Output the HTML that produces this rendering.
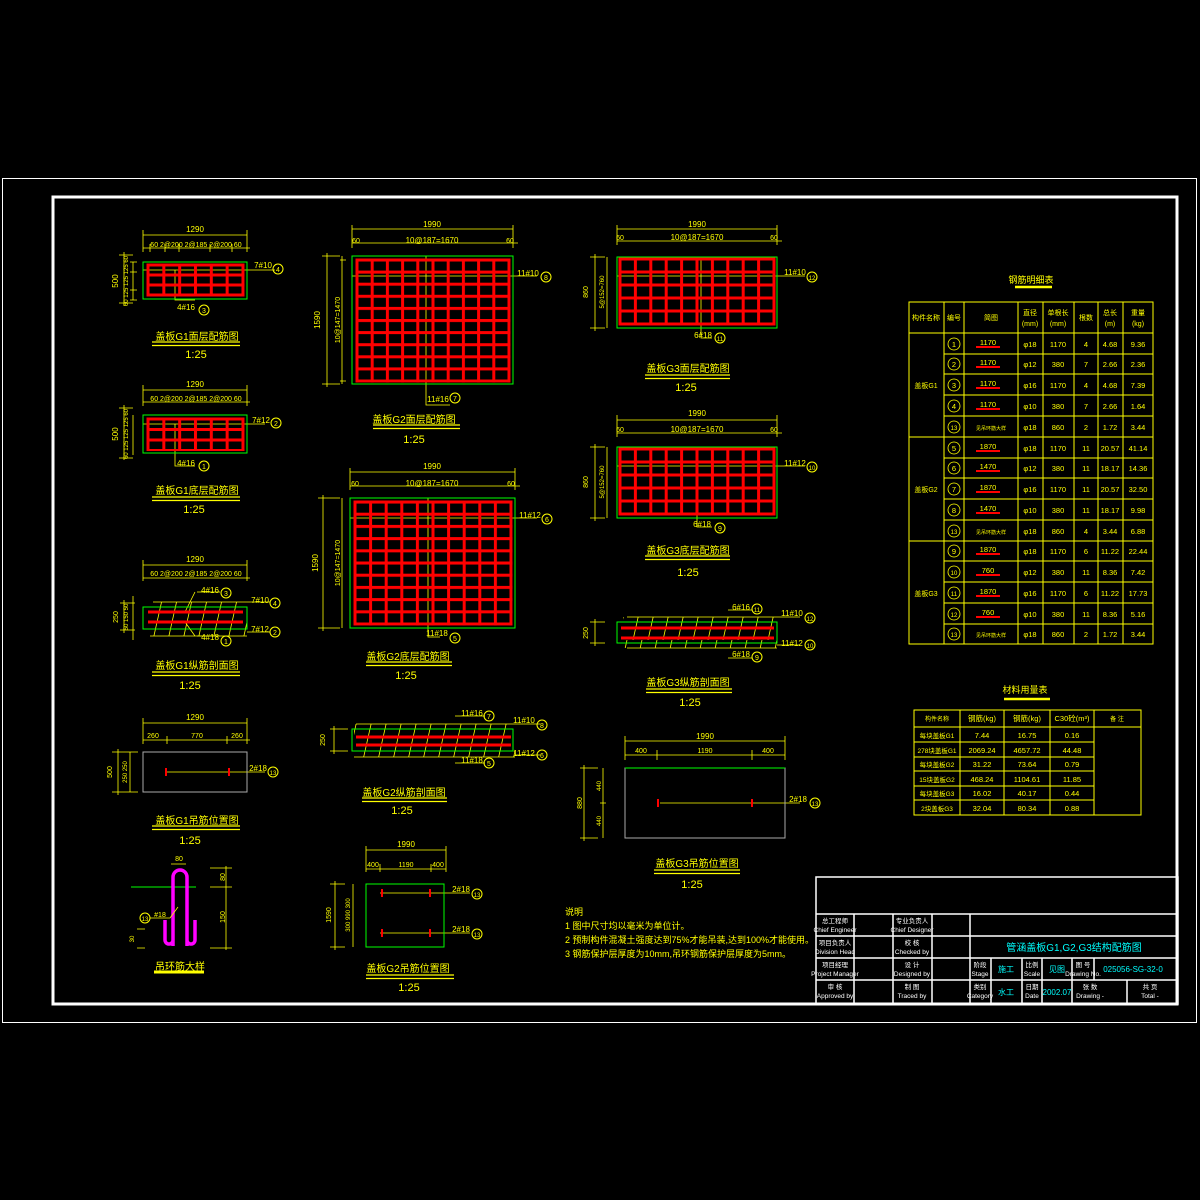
<!DOCTYPE html>
<html><head><meta charset="utf-8"><style>
html,body{margin:0;padding:0;background:#000;}
svg{display:block;}
text{font-family:"Liberation Sans","Noto Sans CJK SC",sans-serif;}
</style></head><body>
<svg width="1200" height="1200" viewBox="0 0 1200 1200" xmlns="http://www.w3.org/2000/svg">
<defs>
<pattern id="pg1" patternUnits="userSpaceOnUse" x="146.5" y="263.5" width="15.83" height="10"><path d="M1.5 0V10M0 1.5H15.83" stroke="#f00" stroke-width="3"/></pattern>
<pattern id="pg1b" patternUnits="userSpaceOnUse" x="146.5" y="417.5" width="15.83" height="10.5"><path d="M1.5 0V10.5M0 1.5H15.83" stroke="#f00" stroke-width="3"/></pattern>
<pattern id="pg2" patternUnits="userSpaceOnUse" x="355.5" y="258.5" width="15.2" height="12.1"><path d="M1.5 0V12.1M0 1.5H15.2" stroke="#f00" stroke-width="3"/></pattern>
<pattern id="pg2b" patternUnits="userSpaceOnUse" x="353.5" y="500.5" width="15.6" height="12.2"><path d="M1.5 0V12.2M0 1.5H15.6" stroke="#f00" stroke-width="3"/></pattern>
<pattern id="pg3" patternUnits="userSpaceOnUse" x="618.5" y="257.5" width="15.4" height="13"><path d="M1.5 0V13M0 1.5H15.4" stroke="#f00" stroke-width="3"/></pattern>
<pattern id="pg3b" patternUnits="userSpaceOnUse" x="618.5" y="447.5" width="15.4" height="13"><path d="M1.5 0V13M0 1.5H15.4" stroke="#f00" stroke-width="3"/></pattern>
<pattern id="hatch" patternUnits="userSpaceOnUse" width="15" height="40"><path d="M12 0L3 40" stroke="#ff0" stroke-width="0.8"/></pattern>
</defs>
<rect width="1200" height="1200" fill="#000"/>
<rect x="2.5" y="178.5" width="1194" height="844" fill="none" stroke="#fff" stroke-width="1"/>
<rect x="53" y="197" width="1124" height="807" fill="none" stroke="#fff" stroke-width="3"/>

<g fill="#ff0" font-size="8" text-anchor="middle">
<!-- ===== G1 top plan ===== -->
<g stroke="#ff0" stroke-width="0.8" fill="none">
<path d="M143 235H247M143 248H250M143 230V252M247 230V252M150 244V252M165 244V252M179 244V252M210 244V252M232 244V252"/>
<path d="M119 255H133M119 303H133M124 252V306M133 262V300M130 262H137M130 272H137M130 290H137M130 300H137"/>
<path d="M143 270H275M175 270V300H195"/>
</g>
<rect x="146.5" y="263.5" width="98" height="33" fill="url(#pg1)"/>
<rect x="143" y="262" width="104" height="37" fill="none" stroke="#0f0" stroke-width="1"/>
<text x="195" y="232">1290</text>
<text x="196" y="247" font-size="7">60 2@200 2@185 2@200 60</text>
<text x="118" y="281" transform="rotate(-90 118 281)">500</text>
<text x="128" y="281" font-size="6" transform="rotate(-90 128 281)">60 125 125 125 60</text>
<text x="263" y="268">7#10</text>
<circle cx="278" cy="269" r="5" fill="none" stroke="#ff0"/><text x="278" y="272" font-size="7">4</text>
<text x="186" y="310">4#16</text>
<circle cx="204" cy="310" r="5" fill="none" stroke="#ff0"/><text x="204" y="313" font-size="7">3</text>
<text x="197" y="340" font-size="10">盖板G1面层配筋图</text>
<path d="M152 342H240M152 345.5H240" stroke="#ff0" stroke-width="1.2"/>
<text x="196" y="358" font-size="11">1:25</text>

<!-- ===== G1 bottom plan ===== -->
<g stroke="#ff0" stroke-width="0.8" fill="none">
<path d="M143 390H247M143 402H250M143 385V406M247 385V406"/>
<path d="M119 408H133M119 458H133M124 405V460M133 415V455"/>
<path d="M143 424H265M175 424V466H195"/>
</g>
<rect x="146.5" y="417.5" width="98" height="33.5" fill="url(#pg1b)"/>
<rect x="143" y="415" width="104" height="38" fill="none" stroke="#0f0"/>
<text x="195" y="387">1290</text>
<text x="196" y="401" font-size="7">60 2@200 2@185 2@200 60</text>
<text x="118" y="434" transform="rotate(-90 118 434)">500</text>
<text x="128" y="434" font-size="6" transform="rotate(-90 128 434)">60 125 125 125 60</text>
<text x="261" y="423">7#12</text>
<circle cx="276" cy="423" r="5" fill="none" stroke="#ff0"/><text x="276" y="426" font-size="7">2</text>
<text x="186" y="466">4#16</text>
<circle cx="204" cy="466" r="5" fill="none" stroke="#ff0"/><text x="204" y="469" font-size="7">1</text>
<text x="197" y="494" font-size="10">盖板G1底层配筋图</text>
<path d="M152 497H240M152 500.5H240" stroke="#ff0" stroke-width="1.2"/>
<text x="194" y="513" font-size="11">1:25</text>

<!-- ===== G1 section ===== -->
<g stroke="#ff0" stroke-width="0.8" fill="none">
<path d="M143 565H247M143 578H250M143 560V581M247 560V581"/>
<path d="M153 602H247M150 636H247"/>
<path d="M197 592H220M197 636H220M195 592L185 612M195 636L185 622"/>
<path d="M247 602H270M247 632H270"/>
<path d="M120 603H135M120 630H135M124 600V633M133 596V640"/>
</g>
<rect x="150" y="602" width="97" height="34" fill="url(#hatch)"/>
<rect x="143" y="607" width="104" height="22" fill="none" stroke="#0f0"/>
<path d="M148 612H243M148 622H243" stroke="#f00" stroke-width="3"/>
<text x="195" y="562">1290</text>
<text x="196" y="576" font-size="7">60 2@200 2@185 2@200 60</text>
<text x="118" y="617" font-size="7" transform="rotate(-90 118 617)">250</text>
<text x="128" y="617" font-size="6" transform="rotate(-90 128 617)">50 150 50</text>
<text x="210" y="593">4#16</text><circle cx="226" cy="593" r="5" fill="none" stroke="#ff0"/><text x="226" y="596" font-size="7">3</text>
<text x="210" y="640">4#18</text><circle cx="226" cy="641" r="5" fill="none" stroke="#ff0"/><text x="226" y="644" font-size="7">1</text>
<text x="260" y="603">7#10</text><circle cx="275" cy="603" r="5" fill="none" stroke="#ff0"/><text x="275" y="606" font-size="7">4</text>
<text x="260" y="632">7#12</text><circle cx="275" cy="632" r="5" fill="none" stroke="#ff0"/><text x="275" y="635" font-size="7">2</text>
<text x="197" y="669" font-size="10">盖板G1纵筋剖面图</text>
<path d="M152 672H240M152 675.5H240" stroke="#ff0" stroke-width="1.2"/>
<text x="190" y="689" font-size="11">1:25</text>

<!-- ===== G1 lifting ===== -->
<g stroke="#ff0" stroke-width="0.8" fill="none">
<path d="M143 723H247M143 740H250M143 718V744M247 718V744M167 736V744M227 736V744"/>
<path d="M112 752H138M112 792H138M118 749V795M130 752V792"/>
<path d="M165 772H230M230 772H265"/>
</g>
<rect x="143" y="752" width="104" height="40" fill="none" stroke="#aaa"/>
<path d="M166 768V776M229 768V776" stroke="#f00" stroke-width="2"/>
<text x="195" y="720">1290</text>
<text x="153" y="738" font-size="7">260</text><text x="197" y="738" font-size="7">770</text><text x="237" y="738" font-size="7">260</text>
<text x="112" y="772" font-size="7" transform="rotate(-90 112 772)">500</text>
<text x="127" y="772" font-size="6" transform="rotate(-90 127 772)">250 250</text>
<text x="258" y="771">2#18</text><circle cx="273" cy="772" r="5" fill="none" stroke="#ff0"/><text x="273" y="775" font-size="6">13</text>
<text x="197" y="824" font-size="10">盖板G1吊筋位置图</text>
<path d="M152 826H240M152 829.5H240" stroke="#ff0" stroke-width="1.2"/>
<text x="190" y="844" font-size="11">1:25</text>

<!-- ===== lifting ring ===== -->
<path d="M131 887H196" stroke="#0f0" stroke-width="1"/>
<path d="M173 946V877A7 7 0 0 1 187 877V946M165 920V940A4 4 0 0 0 173 940M187 940A4 4 0 0 0 195 940V920" stroke="#f0f" stroke-width="3.5" fill="none"/>
<g stroke="#ff0" stroke-width="0.8" fill="none"><path d="M171 864H186M210 868H232M210 887H232M210 948H232M226 866V950M150 918H170L178 907M137 929H145M137 948H145"/></g>
<text x="179" y="861" font-size="7">80</text>
<text x="225" y="877" font-size="7" transform="rotate(-90 225 877)">80</text>
<text x="225" y="917" font-size="7" transform="rotate(-90 225 917)">150</text>
<text x="134" y="939" font-size="6" transform="rotate(-90 134 939)">30</text>
<circle cx="145" cy="918" r="5" fill="none" stroke="#ff0"/><text x="145" y="921" font-size="6">13</text>
<text x="160" y="917" font-size="7">#18</text>
<text x="180" y="970" font-size="10">吊环筋大样</text>
<path d="M154 972H204" stroke="#ff0" stroke-width="3"/>

<!-- ===== G2 top plan ===== -->
<g stroke="#ff0" stroke-width="0.8" fill="none">
<path d="M352 229H513M352 243H518M352 225V248M513 225V248"/>
<path d="M322 256H340M322 384H340M327 253V387M342 256V384M340 260H346M340 381H346"/>
<path d="M352 276H537M426 256V405H450"/>
</g>
<rect x="355.5" y="258.5" width="155" height="124" fill="url(#pg2)"/>
<rect x="352" y="256" width="161" height="128" fill="none" stroke="#0f0"/>
<text x="432" y="227">1990</text>
<text x="356" y="243" font-size="7">60</text><text x="432" y="243">10@187=1670</text><text x="510" y="243" font-size="7">60</text>
<text x="320" y="320" transform="rotate(-90 320 320)">1590</text>
<text x="340" y="320" font-size="7" transform="rotate(-90 340 320)">10@147=1470</text>
<text x="528" y="276">11#10</text><circle cx="546" cy="277" r="5" fill="none" stroke="#ff0"/><text x="546" y="280" font-size="7">8</text>
<text x="438" y="402">11#16</text><circle cx="455" cy="398" r="5" fill="none" stroke="#ff0"/><text x="455" y="401" font-size="7">7</text>
<text x="414" y="423" font-size="10">盖板G2面层配筋图</text>
<path d="M373 425H460M373 428.5H460" stroke="#ff0" stroke-width="1.2"/>
<text x="414" y="443" font-size="11">1:25</text>

<!-- ===== G2 bottom plan ===== -->
<g stroke="#ff0" stroke-width="0.8" fill="none">
<path d="M350 472H515M350 486H520M350 468V490M515 468V490"/>
<path d="M318 498H340M318 628H340M323 495V631M342 498V628"/>
<path d="M350 518H537M428 498V637H440"/>
</g>
<rect x="353.5" y="500.5" width="159" height="125" fill="url(#pg2b)"/>
<rect x="350" y="498" width="165" height="130" fill="none" stroke="#0f0"/>
<text x="432" y="469">1990</text>
<text x="355" y="486" font-size="7">60</text><text x="432" y="486">10@187=1670</text><text x="511" y="486" font-size="7">60</text>
<text x="318" y="563" transform="rotate(-90 318 563)">1590</text>
<text x="340" y="563" font-size="7" transform="rotate(-90 340 563)">10@147=1470</text>
<text x="530" y="518">11#12</text><circle cx="547" cy="519" r="5" fill="none" stroke="#ff0"/><text x="547" y="522" font-size="7">6</text>
<text x="437" y="636">11#18</text><circle cx="455" cy="638" r="5" fill="none" stroke="#ff0"/><text x="455" y="641" font-size="7">5</text>
<text x="408" y="660" font-size="10">盖板G2底层配筋图</text>
<path d="M366 662H452M366 665.5H452" stroke="#ff0" stroke-width="1.2"/>
<text x="406" y="679" font-size="11">1:25</text>

<!-- ===== G2 section ===== -->
<g stroke="#ff0" stroke-width="0.8" fill="none">
<path d="M356 724H515M354 757H515M455 716H485M455 763H485M515 724H540M515 755H540M330 729H348M330 751H348M334 726V754"/>
</g>
<rect x="354" y="724" width="161" height="33" fill="url(#hatch)"/>
<rect x="352" y="729" width="161" height="22" fill="none" stroke="#0f0"/>
<path d="M356 737H511M356 745H511" stroke="#f00" stroke-width="3"/>
<text x="325" y="740" font-size="7" transform="rotate(-90 325 740)">250</text>
<text x="472" y="716">11#16</text><circle cx="489" cy="716" r="5" fill="none" stroke="#ff0"/><text x="489" y="719" font-size="7">7</text>
<text x="472" y="763">11#18</text><circle cx="489" cy="763" r="5" fill="none" stroke="#ff0"/><text x="489" y="766" font-size="7">5</text>
<text x="524" y="723">11#10</text><circle cx="542" cy="725" r="5" fill="none" stroke="#ff0"/><text x="542" y="728" font-size="7">8</text>
<text x="524" y="756">11#12</text><circle cx="542" cy="755" r="5" fill="none" stroke="#ff0"/><text x="542" y="758" font-size="7">6</text>
<text x="404" y="796" font-size="10">盖板G2纵筋剖面图</text>
<path d="M362 798H447M362 801.5H447" stroke="#ff0" stroke-width="1.2"/>
<text x="402" y="814" font-size="11">1:25</text>

<!-- ===== G2 lifting ===== -->
<g stroke="#ff0" stroke-width="0.8" fill="none">
<path d="M366 850H446M366 869H446M366 846V872M380 864V872M431 864V872M446 846V872"/>
<path d="M330 884H345M330 947H345M335 881V950M353 884V947"/>
<path d="M380 893H470M380 933H470"/>
</g>
<rect x="366" y="884" width="78" height="63" fill="none" stroke="#0f0"/>
<path d="M382 889V897M430 889V897M382 929V937M430 929V937" stroke="#f00" stroke-width="2"/>
<text x="406" y="847">1990</text>
<text x="373" y="867" font-size="7">400</text><text x="406" y="867" font-size="7">1190</text><text x="438" y="867" font-size="7">400</text>
<text x="331" y="915" font-size="7" transform="rotate(-90 331 915)">1590</text>
<text x="350" y="915" font-size="6" transform="rotate(-90 350 915)">300 990 300</text>
<text x="461" y="892">2#18</text><circle cx="477" cy="894" r="5" fill="none" stroke="#ff0"/><text x="477" y="897" font-size="6">13</text>
<text x="461" y="932">2#18</text><circle cx="477" cy="934" r="5" fill="none" stroke="#ff0"/><text x="477" y="937" font-size="6">13</text>
<text x="408" y="972" font-size="10">盖板G2吊筋位置图</text>
<path d="M366 975H454M366 978.5H454" stroke="#ff0" stroke-width="1.2"/>
<text x="409" y="991" font-size="11">1:25</text>

<!-- ===== G3 top plan ===== -->
<g stroke="#ff0" stroke-width="0.8" fill="none">
<path d="M617 229H777M617 241H782M617 225V245M777 225V245"/>
<path d="M590 257H605M590 328H605M595 254V331M607 257V328"/>
<path d="M617 276H805M701 257V338H712"/>
</g>
<rect x="618.5" y="257.5" width="157" height="68" fill="url(#pg3)"/>
<rect x="617" y="257" width="160" height="71" fill="none" stroke="#0f0"/>
<text x="697" y="227">1990</text>
<text x="620" y="240" font-size="7">60</text><text x="697" y="240">10@187=1670</text><text x="774" y="240" font-size="7">60</text>
<text x="588" y="292" font-size="7" transform="rotate(-90 588 292)">860</text>
<text x="604" y="292" font-size="6" transform="rotate(-90 604 292)">5@152=760</text>
<text x="795" y="275">11#10</text><circle cx="812" cy="277" r="5" fill="none" stroke="#ff0"/><text x="812" y="280" font-size="6">12</text>
<text x="703" y="338">6#18</text><circle cx="720" cy="338" r="5" fill="none" stroke="#ff0"/><text x="720" y="341" font-size="6">11</text>
<text x="688" y="372" font-size="10">盖板G3面层配筋图</text>
<path d="M645 375H730M645 378.5H730" stroke="#ff0" stroke-width="1.2"/>
<text x="686" y="391" font-size="11">1:25</text>

<!-- ===== G3 bottom plan ===== -->
<g stroke="#ff0" stroke-width="0.8" fill="none">
<path d="M617 420H777M617 433H782M617 415V437M777 415V437"/>
<path d="M590 447H605M590 518H605M595 444V521M607 447V518"/>
<path d="M617 466H805M697 447V527H712"/>
</g>
<rect x="618.5" y="447.5" width="157" height="68" fill="url(#pg3b)"/>
<rect x="617" y="447" width="160" height="71" fill="none" stroke="#0f0"/>
<text x="697" y="416">1990</text>
<text x="620" y="432" font-size="7">60</text><text x="697" y="432">10@187=1670</text><text x="774" y="432" font-size="7">60</text>
<text x="588" y="482" font-size="7" transform="rotate(-90 588 482)">860</text>
<text x="604" y="482" font-size="6" transform="rotate(-90 604 482)">5@152=760</text>
<text x="795" y="466">11#12</text><circle cx="812" cy="467" r="5" fill="none" stroke="#ff0"/><text x="812" y="470" font-size="6">10</text>
<text x="702" y="527">6#18</text><circle cx="720" cy="528" r="5" fill="none" stroke="#ff0"/><text x="720" y="531" font-size="7">9</text>
<text x="688" y="554" font-size="10">盖板G3底层配筋图</text>
<path d="M645 556H730M645 559.5H730" stroke="#ff0" stroke-width="1.2"/>
<text x="688" y="576" font-size="11">1:25</text>

<!-- ===== G3 section ===== -->
<g stroke="#ff0" stroke-width="0.8" fill="none">
<path d="M627 617H777M627 648H777M728 610H752M728 658H752M777 617H800M777 645H800M590 622H605M590 643H605M595 619V646"/>
</g>
<rect x="623" y="617" width="154" height="31" fill="url(#hatch)"/>
<rect x="617" y="622" width="160" height="21" fill="none" stroke="#0f0"/>
<path d="M621 628H774M621 638H774" stroke="#f00" stroke-width="3"/>
<text x="588" y="633" font-size="7" transform="rotate(-90 588 633)">250</text>
<text x="741" y="610">6#16</text><circle cx="757" cy="609" r="5" fill="none" stroke="#ff0"/><text x="757" y="612" font-size="6">11</text>
<text x="741" y="657">6#18</text><circle cx="757" cy="657" r="5" fill="none" stroke="#ff0"/><text x="757" y="660" font-size="7">9</text>
<text x="792" y="616">11#10</text><circle cx="810" cy="618" r="5" fill="none" stroke="#ff0"/><text x="810" y="621" font-size="6">12</text>
<text x="792" y="646">11#12</text><circle cx="810" cy="645" r="5" fill="none" stroke="#ff0"/><text x="810" y="648" font-size="6">10</text>
<text x="688" y="686" font-size="10">盖板G3纵筋剖面图</text>
<path d="M646 689H732M646 692.5H732" stroke="#ff0" stroke-width="1.2"/>
<text x="690" y="706" font-size="11">1:25</text>

<!-- ===== G3 lifting ===== -->
<g stroke="#ff0" stroke-width="0.8" fill="none">
<path d="M625 741H785M625 755H785M625 736V760M657 750V760M752 750V760M785 736V760"/>
<path d="M580 768H598M580 838H598M584 765V841M603 768V838M600 803H606"/>
<path d="M660 803H800"/>
</g>
<rect x="625" y="768" width="160" height="70" fill="none" stroke="#aaa"/>
<path d="M625 768H785" stroke="#0f0"/>
<path d="M658 799V807M752 799V807" stroke="#f00" stroke-width="2"/>
<text x="705" y="739">1990</text>
<text x="641" y="753" font-size="7">400</text><text x="705" y="753" font-size="7">1190</text><text x="768" y="753" font-size="7">400</text>
<text x="582" y="803" font-size="7" transform="rotate(-90 582 803)">880</text>
<text x="601" y="786" font-size="6" transform="rotate(-90 601 786)">440</text>
<text x="601" y="821" font-size="6" transform="rotate(-90 601 821)">440</text>
<text x="798" y="802">2#18</text><circle cx="815" cy="803" r="5" fill="none" stroke="#ff0"/><text x="815" y="806" font-size="6">13</text>
<text x="697" y="867" font-size="10">盖板G3吊筋位置图</text>
<path d="M654 870H740M654 873.5H740" stroke="#ff0" stroke-width="1.2"/>
<text x="692" y="888" font-size="11">1:25</text>
</g>

<!-- notes -->
<g fill="#ff0" font-size="9">
<text x="565" y="915">说明</text>
<text x="565" y="929">1 图中尺寸均以毫米为单位计。</text>
<text x="565" y="943">2 预制构件混凝土强度达到75%才能吊装,达到100%才能使用。</text>
<text x="565" y="957">3 钢筋保护层厚度为10mm,吊环钢筋保护层厚度为5mm。</text>
</g>

<!-- table 1 -->
<text x="1031" y="283" fill="#ff0" font-size="9" text-anchor="middle">钢筋明细表</text>
<path d="M1015 287H1052" stroke="#ff0" stroke-width="2.5"/>
<g stroke="#ff0" stroke-width="1" fill="none">
<rect x="909" y="302" width="244" height="342"/>
<path d="M944 302V644M964 302V644M1018 302V644M1043 302V644M1074 302V644M1098 302V644M1123 302V644"/>
<path d="M909 333H1153M909 437H1153M909 541H1153"/>
<path d="M944 354H1153M944 374H1153M944 395H1153M944 416H1153M944 458H1153M944 478H1153M944 499H1153M944 520H1153M944 561H1153M944 582H1153M944 603H1153M944 624H1153"/>
</g>
<g fill="#ff0" font-size="7" text-anchor="middle">
<text x="926" y="320">构件名称</text><text x="954" y="320">编号</text><text x="991" y="320">简图</text>
<text x="1030" y="315">直径</text><text x="1030" y="326">(mm)</text>
<text x="1058" y="315">单根长</text><text x="1058" y="326">(mm)</text>
<text x="1086" y="320">根数</text>
<text x="1110" y="315">总长</text><text x="1110" y="326">(m)</text>
<text x="1138" y="315">重量</text><text x="1138" y="326">(kg)</text>
<text x="926" y="388">盖板G1</text><text x="926" y="492">盖板G2</text><text x="926" y="596">盖板G3</text>
</g>
<g fill="#ff0" font-size="7.5" text-anchor="middle" stroke="none">
<g id="r">
</g>
</g>
<g fill="none" stroke="#ff0" stroke-width="0.8">
<circle cx="954" cy="344" r="6"/><circle cx="954" cy="364" r="6"/><circle cx="954" cy="385" r="6"/><circle cx="954" cy="406" r="6"/><circle cx="954" cy="427" r="6"/>
<circle cx="954" cy="448" r="6"/><circle cx="954" cy="468" r="6"/><circle cx="954" cy="489" r="6"/><circle cx="954" cy="510" r="6"/><circle cx="954" cy="531" r="6"/>
<circle cx="954" cy="551" r="6"/><circle cx="954" cy="572" r="6"/><circle cx="954" cy="593" r="6"/><circle cx="954" cy="614" r="6"/><circle cx="954" cy="634" r="6"/>
</g>
<g stroke="#f00" stroke-width="2">
<path d="M976 347H1000M976 367H1000M976 388H1000M976 409H1000M976 451H1000M976 471H1000M976 492H1000M976 513H1000M976 554H1000M976 575H1000M976 596H1000M976 617H1000"/>
</g>
<g fill="#ff0" font-size="7.5" text-anchor="middle">
<text x="954" y="347">1</text><text x="954" y="367">2</text><text x="954" y="388">3</text><text x="954" y="409">4</text><text x="954" y="430" font-size="6">13</text>
<text x="954" y="451">5</text><text x="954" y="471">6</text><text x="954" y="492">7</text><text x="954" y="513">8</text><text x="954" y="534" font-size="6">13</text>
<text x="954" y="554">9</text><text x="954" y="575" font-size="6">10</text><text x="954" y="596" font-size="6">11</text><text x="954" y="617" font-size="6">12</text><text x="954" y="637" font-size="6">13</text>
<text x="988" y="345">1170</text><text x="988" y="365">1170</text><text x="988" y="386">1170</text><text x="988" y="407">1170</text><text x="991" y="430" font-size="5">见吊环筋大样</text>
<text x="988" y="449">1870</text><text x="988" y="469">1470</text><text x="988" y="490">1870</text><text x="988" y="511">1470</text><text x="991" y="534" font-size="5">见吊环筋大样</text>
<text x="988" y="552">1870</text><text x="988" y="573">760</text><text x="988" y="594">1870</text><text x="988" y="615">760</text><text x="991" y="637" font-size="5">见吊环筋大样</text>
</g>
<g fill="#ff0" font-size="7.5" text-anchor="middle">
<text x="1030" y="347">φ18</text><text x="1058" y="347">1170</text><text x="1086" y="347">4</text><text x="1110" y="347">4.68</text><text x="1138" y="347">9.36</text>
<text x="1030" y="367">φ12</text><text x="1058" y="367">380</text><text x="1086" y="367">7</text><text x="1110" y="367">2.66</text><text x="1138" y="367">2.36</text>
<text x="1030" y="388">φ16</text><text x="1058" y="388">1170</text><text x="1086" y="388">4</text><text x="1110" y="388">4.68</text><text x="1138" y="388">7.39</text>
<text x="1030" y="409">φ10</text><text x="1058" y="409">380</text><text x="1086" y="409">7</text><text x="1110" y="409">2.66</text><text x="1138" y="409">1.64</text>
<text x="1030" y="430">φ18</text><text x="1058" y="430">860</text><text x="1086" y="430">2</text><text x="1110" y="430">1.72</text><text x="1138" y="430">3.44</text>
<text x="1030" y="451">φ18</text><text x="1058" y="451">1170</text><text x="1086" y="451">11</text><text x="1110" y="451">20.57</text><text x="1138" y="451">41.14</text>
<text x="1030" y="471">φ12</text><text x="1058" y="471">380</text><text x="1086" y="471">11</text><text x="1110" y="471">18.17</text><text x="1138" y="471">14.36</text>
<text x="1030" y="492">φ16</text><text x="1058" y="492">1170</text><text x="1086" y="492">11</text><text x="1110" y="492">20.57</text><text x="1138" y="492">32.50</text>
<text x="1030" y="513">φ10</text><text x="1058" y="513">380</text><text x="1086" y="513">11</text><text x="1110" y="513">18.17</text><text x="1138" y="513">9.98</text>
<text x="1030" y="534">φ18</text><text x="1058" y="534">860</text><text x="1086" y="534">4</text><text x="1110" y="534">3.44</text><text x="1138" y="534">6.88</text>
<text x="1030" y="554">φ18</text><text x="1058" y="554">1170</text><text x="1086" y="554">6</text><text x="1110" y="554">11.22</text><text x="1138" y="554">22.44</text>
<text x="1030" y="575">φ12</text><text x="1058" y="575">380</text><text x="1086" y="575">11</text><text x="1110" y="575">8.36</text><text x="1138" y="575">7.42</text>
<text x="1030" y="596">φ16</text><text x="1058" y="596">1170</text><text x="1086" y="596">6</text><text x="1110" y="596">11.22</text><text x="1138" y="596">17.73</text>
<text x="1030" y="617">φ10</text><text x="1058" y="617">380</text><text x="1086" y="617">11</text><text x="1110" y="617">8.36</text><text x="1138" y="617">5.16</text>
<text x="1030" y="637">φ18</text><text x="1058" y="637">860</text><text x="1086" y="637">2</text><text x="1110" y="637">1.72</text><text x="1138" y="637">3.44</text>
</g>

<!-- table 2 -->
<text x="1025" y="693" fill="#ff0" font-size="9" text-anchor="middle">材料用量表</text>
<path d="M1004 699H1050" stroke="#ff0" stroke-width="2.5"/>
<g stroke="#ff0" stroke-width="1" fill="none">
<rect x="914" y="710" width="227" height="105"/>
<path d="M960 710V815M1004 710V815M1050 710V815M1094 710V815M914 727H1141"/>
<path d="M914 742H1094M914 757H1094M914 771H1094M914 786H1094M914 800H1094"/>
</g>
<g fill="#ff0" font-size="7.5" text-anchor="middle">
<text x="937" y="721" font-size="6">构件名称</text><text x="982" y="721">钢筋(kg)</text><text x="1027" y="721">钢筋(kg)</text><text x="1072" y="721">C30砼(m³)</text><text x="1117" y="721" font-size="6">备 注</text>
<text x="937" y="738" font-size="6.5">每块盖板G1</text><text x="982" y="738">7.44</text><text x="1027" y="738">16.75</text><text x="1072" y="738">0.16</text>
<text x="937" y="753" font-size="6.5">278块盖板G1</text><text x="982" y="753">2069.24</text><text x="1027" y="753">4657.72</text><text x="1072" y="753">44.48</text>
<text x="937" y="767" font-size="6.5">每块盖板G2</text><text x="982" y="767">31.22</text><text x="1027" y="767">73.64</text><text x="1072" y="767">0.79</text>
<text x="937" y="782" font-size="6.5">15块盖板G2</text><text x="982" y="782">468.24</text><text x="1027" y="782">1104.61</text><text x="1072" y="782">11.85</text>
<text x="937" y="796" font-size="6.5">每块盖板G3</text><text x="982" y="796">16.02</text><text x="1027" y="796">40.17</text><text x="1072" y="796">0.44</text>
<text x="937" y="811" font-size="6.5">2块盖板G3</text><text x="982" y="811">32.04</text><text x="1027" y="811">80.34</text><text x="1072" y="811">0.88</text>
</g>

<!-- title block -->
<g stroke="#fff" stroke-width="1.5" fill="none">
<rect x="816" y="877" width="362" height="127"/>
<path d="M816 914H1178M816 936H1178M816 958H1178M816 980H1178"/>
<path d="M854 914V1004M893 914V1004M932 914V1004M970 914V1004"/>
<path d="M991 958V1004M1022 958V1004M1042 958V1004M1072 958V1004M1094 958V980M1127 980V1004"/>
</g>
<g fill="#fff" font-size="6.5" text-anchor="middle">
<text x="835" y="923">总工程师</text><text x="835" y="932">Chief Engineer</text>
<text x="835" y="945">项目负责人</text><text x="835" y="954">Division Head</text>
<text x="835" y="967">项目经理</text><text x="835" y="976">Project Manager</text>
<text x="835" y="989">审 核</text><text x="835" y="998">Approved by</text>
<text x="912" y="923">专业负责人</text><text x="912" y="932">Chief Designer</text>
<text x="912" y="945">校 核</text><text x="912" y="954">Checked by</text>
<text x="912" y="967">设 计</text><text x="912" y="976">Designed by</text>
<text x="912" y="989">制 图</text><text x="912" y="998">Traced by</text>
<text x="980" y="967">阶段</text><text x="980" y="976">Stage</text>
<text x="980" y="989">类别</text><text x="980" y="998">Category</text>
<text x="1032" y="967">比例</text><text x="1032" y="976">Scale</text>
<text x="1032" y="989">日期</text><text x="1032" y="998">Date</text>
<text x="1083" y="967">图 号</text><text x="1083" y="976">Drawing No.</text>
<text x="1090" y="989">张 数</text><text x="1090" y="998">Drawing -</text>
<text x="1150" y="989">共 页</text><text x="1150" y="998">Total -</text>
</g>
<g fill="#0ff" font-size="8" text-anchor="middle">
<text x="1074" y="951" font-size="10">管涵盖板G1,G2,G3结构配筋图</text>
<text x="1006" y="972">施工</text><text x="1057" y="972">见图</text>
<text x="1133" y="972">025056-SG-32-0</text>
<text x="1006" y="995">水工</text><text x="1057" y="995">2002.07</text>
</g>
</svg>
</body></html>
